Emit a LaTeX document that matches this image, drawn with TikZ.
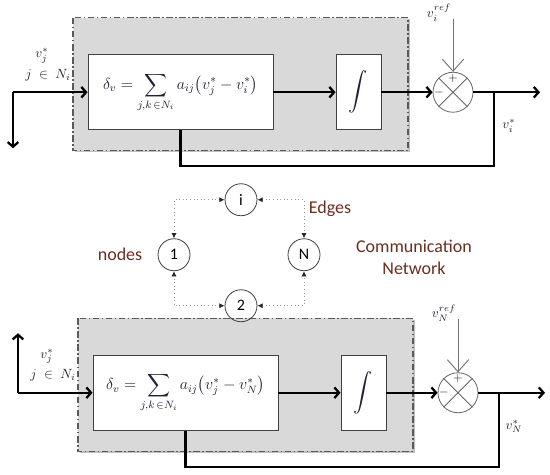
\documentclass[tikz,border=0pt]{standalone}
\usepackage{amsmath}
\usepackage{fontspec}
\setsansfont{Carlito}
\usepackage{tikz}
\usetikzlibrary{arrows.meta,positioning}
\definecolor{netbrown}{HTML}{6B2E1E}
\definecolor{boxgray}{HTML}{D9D9D9}
\definecolor{rimgray}{HTML}{5A5A5A}
\definecolor{mathink}{HTML}{1E1E35}

\begin{document}
\begin{tikzpicture}[x=0.75pt, y=-0.75pt,
    panel/.style={draw=rimgray, fill=boxgray, line width=0.9pt,
                  dash pattern=on 5pt off 1.8pt on 1.2pt off 1.8pt},
    blk/.style={draw=black!75, fill=white, line width=0.7pt, inner sep=0pt,
                text=mathink},
    jun/.style={circle, draw=black!60, line width=0.6pt, minimum size=30pt,
                inner sep=0pt},
    sig/.style={line width=1.7pt, -{Straight Barb[length=3.5pt, width=8pt]}},
    fb/.style={line width=1.7pt},
    refin/.style={draw=black!55, line width=0.7pt,
                  -{Straight Barb[length=9pt, width=16pt]}},
    mlbl/.style={font=\fontsize{10}{12}\selectfont, text=mathink},
    agent/.style={circle, draw=black!75, line width=0.6pt, minimum size=24pt,
                  inner sep=0pt, font=\fontsize{12}{14}\selectfont\sffamily},
    link/.style={draw=black!40, dotted, line width=0.7pt,
                 {Latex[length=4pt, width=4pt, color=black!85]}-{Latex[length=4pt, width=4pt, color=black!85]}},
    netlbl/.style={font=\fontsize{13.5}{16.5}\selectfont\sffamily, text=netbrown}]
  % the two agents: prefix / shift / who / direction of the outgoing signal
  \foreach \p/\oy/\ox/\who/\vy in {t/0/0/i/56, b/300.5/5/N/-59.5}{
    \begin{scope}[shift={(\ox,\oy)}]
      % controller panel with its shadow
      \fill[black!25] (74.5,16.5) rectangle (409.5,149.5);
      \draw[panel] (73,15) rectangle (408,148);
      \node[blk, minimum width=138.75pt, minimum height=56.25pt,
            font=\fontsize{12}{14}\selectfont] (\p-sum) at (180.5,89.5)
        {$\displaystyle \delta_v=\sum_{j,k\,\in N_i} a_{ij}\bigl(v_j^*-v_\who^*\bigr)$};
      \node[blk, minimum width=33.75pt, minimum height=56.25pt,
            font=\fontsize{14}{16}\selectfont] (\p-int) at (358.5,89.5)
        {$\displaystyle\int$};
      \node[jun] (\p-jun) at (453,89.5) {};
      \draw[black!60, line width=0.6pt] (\p-jun.north west) -- (\p-jun.south east)
        (\p-jun.north east) -- (\p-jun.south west);
      \node[mlbl, font=\fontsize{9}{10}\selectfont] (\p-plus) at (453,75.5) {$+$};
      \node[mlbl, font=\fontsize{9}{10}\selectfont] (\p-minus) at (439,89.5) {$-$};
      % signals
      \coordinate (\p-in) at (13,89.5);
      \coordinate (\p-src) at (13,89.5+\vy);
      \coordinate (\p-br) at (494,89.5);
      \coordinate (\p-out) at (540,89.5);
      \coordinate (\p-ref) at (453,16);
      \draw[sig] (\p-in) -- (\p-sum.west);
      \draw[sig] (\p-in) -- (\p-src);
      \draw[sig] (\p-sum.east) -- (\p-int.west);
      \draw[sig] (\p-int.east) -- (\p-jun.west);
      \draw[sig] (\p-jun.east) -- (\p-out);
      \draw[fb] (\p-br) -- ++(0,74) -| (\p-sum.south);
      \draw[refin] (\p-ref) -- (\p-jun.north);
      % labels
      \node[mlbl] (\p-vj) at (42,53) {$v_j^*$};
      \node[mlbl] (\p-nb) at (48,72) {$j\;\in\;N_i$};
      \node[mlbl] (\p-vref) at (439,10) {$v_\who^{ref}$};
      \node[mlbl] (\p-vout) at (509,123) {$v_\who^*$};
    \end{scope}}
  % communication graph
  \node[agent] (ni) at (241,197) {i};
  \node[agent] (n1) at (174,252) {1};
  \node[agent] (nN) at (304,252) {N};
  \node[agent] (n2) at (241,303) {2};
  \draw[link] (ni.west) -| (n1.north);
  \draw[link] (ni.east) -| (nN.north);
  \draw[link] (n2.west) -| (n1.south);
  \draw[link] (n2.east) -| (nN.south);
  \node[netlbl, left=8pt of n1] (nodes) {nodes};
  \node[netlbl] (edges) at (330,206) {Edges};
  \node[netlbl, align=center] (comm) at (414,255) {Communication\\Network};
  \path (0,0) rectangle (550,472);
\end{tikzpicture}
\end{document}
